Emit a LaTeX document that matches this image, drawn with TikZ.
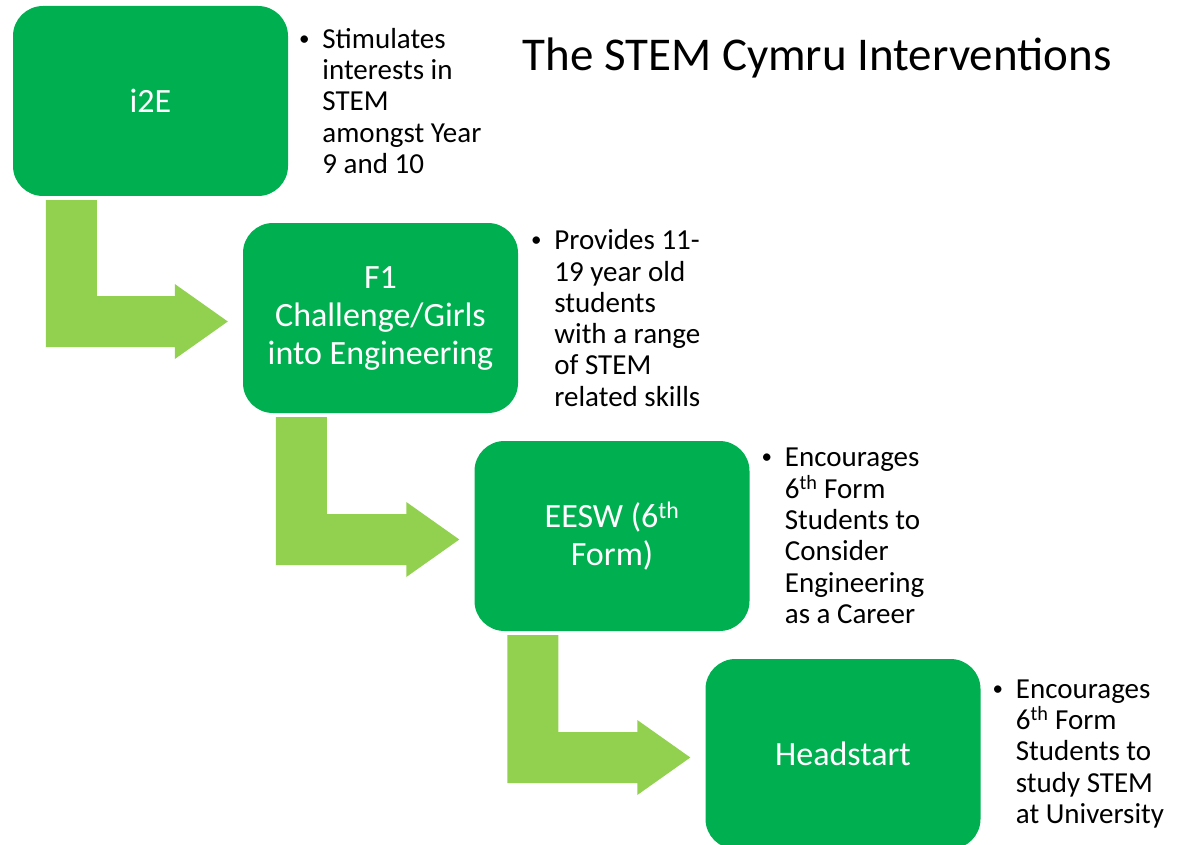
\documentclass[tikz,border=0pt]{standalone}
\usepackage{fontspec}
\setmainfont{Carlito}
\usetikzlibrary{calc}
\definecolor{stagegreen}{HTML}{00B050}
\definecolor{flowgreen}{HTML}{92D050}
% bent block arrow from the foot of one stage to the left side of the next
\newcommand\stagearrow[2]{%
  \fill[flowgreen] let \p1=(#1.south west), \p2=(#2.west) in
    (\x1+33pt,\y1-4pt) -- (\x1+84pt,\y1-4pt) -- (\x1+84pt,\y2+22pt)
    -- (\x2-68pt,\y2+22pt) -- (\x2-68pt,\y2+34pt) -- (\x2-15pt,\y2-3.5pt)
    -- (\x2-68pt,\y2-41pt) -- (\x2-68pt,\y2-29pt) -- (\x1+33pt,\y2-29pt) -- cycle;}
% small hanging bullet for the description lists
\newcommand\notebullet{\makebox[0pt][r]{\raisebox{3pt}{\fontsize{21}{21}\selectfont\textbullet}\hspace{12.8pt}}}
\begin{document}
\begin{tikzpicture}[x=1pt,y=-1pt,
  stage/.style={fill=stagegreen, rounded corners=30pt, minimum width=275pt,
    minimum height=190pt, inner sep=0pt, text=white, align=center,
    font=\fontsize{34}{38}\selectfont},
  note/.style={anchor=west, inner sep=0pt, align=left,
    font=\fontsize{29}{31.3}\selectfont},
]
\useasboundingbox (0,0) rectangle (1180,845);
\clip (0,0) rectangle (1180,845);

\node[anchor=base west, font=\fontsize{47}{56}\selectfont] (title) at (519,71)
  {The STEM Cymru Interventions};

\node[stage] (i2e)  at (150.5,101) {i2E};
\node[stage] (f1)   at (380.5,318) {F1\\Challenge/Girls\\into Engineering};
\node[stage] (eesw) at (612,536)   {EESW (6\textsuperscript{th}\\Form)};
\node[stage] (head) at (843,754)   {Headstart};

\stagearrow{i2e}{f1}
\stagearrow{f1}{eesw}
\stagearrow{eesw}{head}

\node[note] (n1) at ($(i2e.east)+(34,0)$)
  {\notebullet Stimulates\\interests in\\STEM\\amongst Year\\9 and 10};
\node[note] (n2) at ($(f1.east)+(36,0)$)
  {\notebullet Provides 11-\\19 year old\\students\\with a range\\of STEM\\related skills};
\node[note] (n3) at ($(eesw.east)+(35,0)$)
  {\notebullet Encourages\\6\textsuperscript{th} Form\\Students to\\Consider\\Engineering\\as a Career};
\node[note] (n4) at ($(head.east)+(35,0)$)
  {\notebullet Encourages\\6\textsuperscript{th} Form\\Students to\\study STEM\\at University};
\end{tikzpicture}
\end{document}
